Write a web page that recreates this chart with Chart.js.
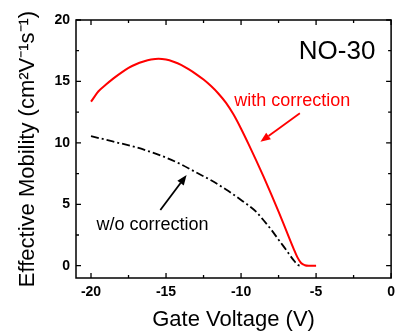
<!DOCTYPE html>
<html lang="en">
<head>
  <meta charset="UTF-8" />
  <title>Effective Mobility NO-30</title>
  <script src="https://cdn.jsdelivr.net/npm/chart.js"></script>
  <style>
    html, body { margin: 0; padding: 0; background: #fff; }
    canvas { display: block; }
  </style>
</head>
<body>
  <canvas id="mobilityChart" width="401" height="334"></canvas>

  <script>
    // data
    const withCorrX = [-20, -19.5, -19, -18.5, -18, -17.5, -17, -16.5, -16, -15.5, -15, -14.5, -14, -13.5, -13,
      -12.5, -12, -11.5, -11, -10.5, -10, -9.5, -9, -8.5, -8, -7.5, -7, -6.5, -6.25, -6, -5.75, -5.5, -5];
    const withCorrY = [13.35, 14.2, 14.75, 15.25, 15.7, 16.1, 16.4, 16.62, 16.78, 16.85, 16.78, 16.6, 16.35, 16.0, 15.6,
      15.15, 14.62, 14.0, 13.25, 12.3, 11.15, 9.9, 8.6, 7.25, 5.85, 4.4, 2.9, 1.4, 0.7, 0.22, 0.04, 0, 0];

    const woCorrX = [-20, -19, -18, -17, -16, -15, -14, -13, -12, -11, -10, -9, -8.5, -8, -7.5, -7, -6.5, -6.2, -6];
    const woCorrY = [10.55, 10.25, 9.95, 9.65, 9.25, 8.8, 8.25, 7.6, 6.95, 6.2, 5.35, 4.4, 3.7, 2.95, 2.12, 1.3, 0.45, 0.06, 0];

    const xTicks = [-20, -15, -10, -5, 0];
    const yTicks = [0, 5, 10, 15, 20];

    const toPoints = (xs, ys) => xs.map((x, i) => ({ x: x, y: ys[i] }));

    // frame, inward ticks (all four sides) and annotations
    const framePlugin = {
      id: 'frame',
      afterDraw(chart) {
        const ctx = chart.ctx;
        const a = chart.chartArea;
        const xs = chart.scales.x;
        const ys = chart.scales.y;
        ctx.save();
        ctx.strokeStyle = '#000';
        ctx.lineWidth = 1.5;
        ctx.strokeRect(a.left, a.top, a.right - a.left, a.bottom - a.top);

        ctx.lineWidth = 1.3;
        ctx.beginPath();
        for (let v = -20; v <= 0; v += 2.5) {
          const px = xs.getPixelForValue(v);
          const len = (v % 5 === 0) ? 5 : 3;
          ctx.moveTo(px, a.bottom); ctx.lineTo(px, a.bottom - len);
          ctx.moveTo(px, a.top); ctx.lineTo(px, a.top + len);
        }
        for (let v = 0; v <= 20; v += 2.5) {
          const py = ys.getPixelForValue(v);
          const len = (v % 5 === 0) ? 5 : 3;
          ctx.moveTo(a.left, py); ctx.lineTo(a.left + len, py);
          ctx.moveTo(a.right, py); ctx.lineTo(a.right - len, py);
        }
        ctx.stroke();

        // annotations
        const X = v => xs.getPixelForValue(v);
        const Y = v => ys.getPixelForValue(v);

        ctx.fillStyle = '#000';
        ctx.font = '26px "Liberation Sans", Arial, sans-serif';
        ctx.textAlign = 'right';
        ctx.textBaseline = 'alphabetic';
        ctx.fillText('NO-30', X(-1.05), Y(16.83));

        ctx.font = '18px "Liberation Sans", Arial, sans-serif';
        ctx.textAlign = 'left';
        ctx.fillStyle = '#ff0000';
        ctx.fillText('with correction', X(-10.45), Y(13.0));
        ctx.fillStyle = '#000';
        ctx.fillText('w/o correction', X(-19.64), Y(2.91));

        function arrow(x1, y1, x2, y2, color) {
          const ang = Math.atan2(y2 - y1, x2 - x1);
          const head = 10, half = 4;
          ctx.strokeStyle = color;
          ctx.fillStyle = color;
          ctx.lineWidth = 1.8;
          ctx.beginPath();
          ctx.moveTo(x1, y1);
          ctx.lineTo(x2 - head * Math.cos(ang), y2 - head * Math.sin(ang));
          ctx.stroke();
          ctx.beginPath();
          ctx.moveTo(x2, y2);
          ctx.lineTo(x2 - head * Math.cos(ang) + half * Math.sin(ang), y2 - head * Math.sin(ang) - half * Math.cos(ang));
          ctx.lineTo(x2 - head * Math.cos(ang) - half * Math.sin(ang), y2 - head * Math.sin(ang) + half * Math.cos(ang));
          ctx.closePath();
          ctx.fill();
        }
        arrow(X(-6.08), Y(12.41), X(-8.71), Y(10.09), '#ff0000');
        arrow(X(-15.38), Y(4.54), X(-13.63), Y(7.38), '#000');

        ctx.restore();
      }
    };

    const ctx = document.getElementById('mobilityChart').getContext('2d');
    const mobilityChart = new Chart(ctx, {
      type: 'line',
      data: {
        datasets: [
          {
            label: 'with correction',
            data: toPoints(withCorrX, withCorrY),
            borderColor: '#ff0000',
            borderWidth: 2,
            pointRadius: 0,
            cubicInterpolationMode: 'monotone'
          },
          {
            label: 'w/o correction',
            data: toPoints(woCorrX, woCorrY),
            borderColor: '#000000',
            borderWidth: 1.8,
            borderDash: [8, 3, 2, 3],
            pointRadius: 0,
            cubicInterpolationMode: 'monotone'
          }
        ]
      },
      options: {
        responsive: false,
        animation: false,
        layout: { padding: { top: 20, right: 5, left: 0, bottom: 0 } },
        plugins: {
          legend: { display: false },
          tooltip: { enabled: false }
        },
        scales: {
          x: {
            type: 'linear',
            min: -21,
            max: 0,
            afterBuildTicks: s => { s.ticks = xTicks.map(v => ({ value: v })); },
            afterFit: s => { s.height = 56; },
            grid: { display: false, drawTicks: false },
            border: { display: false },
            ticks: {
              color: '#000',
              padding: 6,
              maxRotation: 0,
              font: { family: '"Liberation Sans", Arial, sans-serif', size: 14, weight: 'bold' }
            },
            title: {
              display: true,
              text: 'Gate Voltage (V)',
              color: '#000',
              padding: { top: 0, bottom: 1 },
              font: { family: '"Liberation Sans", Arial, sans-serif', size: 22 }
            }
          },
          y: {
            min: -1,
            max: 20,
            afterBuildTicks: s => { s.ticks = yTicks.map(v => ({ value: v })); },
            afterFit: s => { s.width = 76; },
            grid: { display: false, drawTicks: false },
            border: { display: false },
            ticks: {
              color: '#000',
              padding: 6,
              font: { family: '"Liberation Sans", Arial, sans-serif', size: 14, weight: 'bold' }
            },
            title: {
              display: true,
              text: 'Effective Mobility (cm²V⁻¹s⁻¹)',
              color: '#000',
              padding: { top: 15, bottom: 0 },
              font: { family: '"Liberation Sans", Arial, sans-serif', size: 22 }
            }
          }
        }
      },
      plugins: [framePlugin]
    });
  </script>
</body>
</html>
